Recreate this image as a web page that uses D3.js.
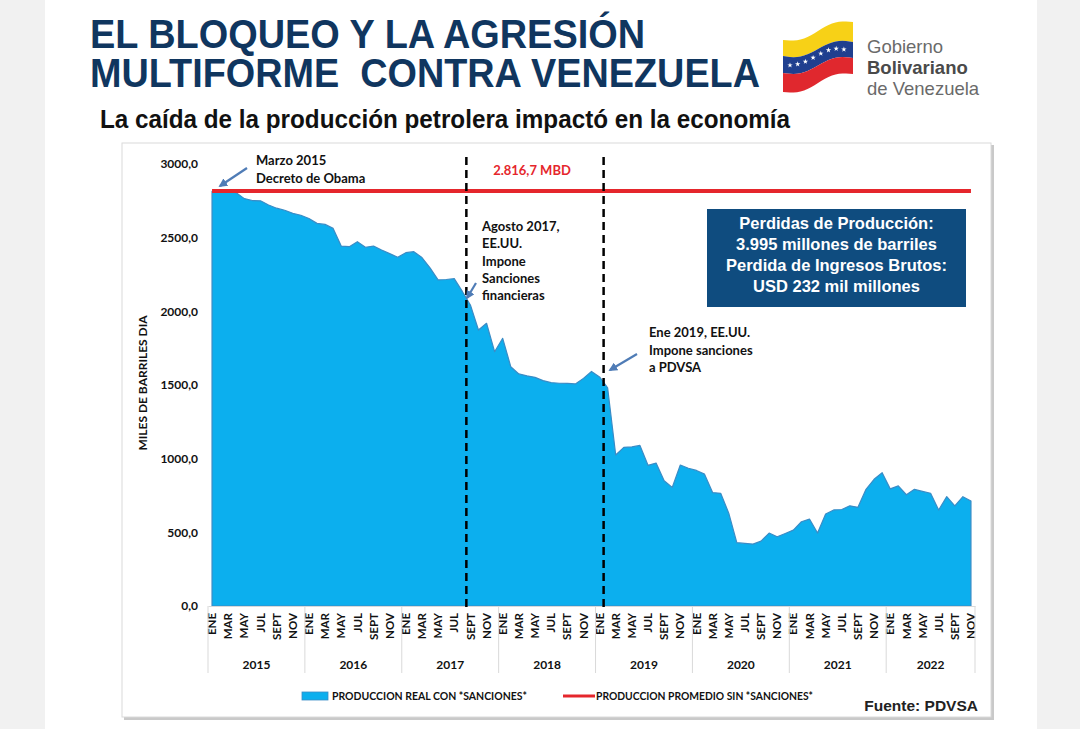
<!DOCTYPE html>
<html>
<head>
<meta charset="utf-8">
<script src="https://cdn.jsdelivr.net/npm/d3@7"></script>
<style>
  body { margin: 0; background: #f1f1f1; }
  svg { display: block; }
</style>
</head>
<body>
<div id="chart"></div>
<script>
// ---- data ----
const years = [2015, 2016, 2017, 2018, 2019, 2020, 2021, 2022];
const monthNames = ["ENE", "FEB", "MAR", "ABR", "MAY", "JUN", "JUL", "AGO", "SEPT", "OCT", "NOV", "DIC"];

// miles de barriles dia, ene 2015 - nov 2022
const produccion = [
    2815, 2817, 2815, 2805, 2765, 2752, 2750, 2722, 2700, 2686, 2665, 2652,
    2630, 2597, 2590, 2563, 2443, 2439, 2473, 2435, 2443, 2416, 2392, 2367,
    2398, 2405, 2365, 2295, 2213, 2216, 2222, 2135, 2043, 1873, 1919, 1726,
    1817, 1624, 1575, 1562, 1552, 1530, 1516, 1512, 1511, 1507, 1545, 1592,
    1555, 1480, 1025, 1077, 1080, 1090, 955, 970, 850, 805, 957, 935,
    920, 895, 770, 765, 630, 430, 425, 420, 440, 495, 470, 492,
    515, 572, 590, 495, 625, 652, 655, 680, 670, 792, 860, 905,
    795, 815, 755, 792, 778, 765, 652, 742, 680, 742, 713
];
const promedioSinSanciones = 2816.7;
const yTicks = [0, 500, 1000, 1500, 2000, 2500, 3000];

const eventCats = ["AGO 2017", "ENE 2019"];
const infoLines = ["Perdidas de Producción:", "3.995 millones de barriles", "Perdida de Ingresos Brutos:", "USD 232 mil millones"];
const legendItems = ["PRODUCCION REAL CON *SANCIONES*", "PRODUCCION PROMEDIO SIN *SANCIONES*"];

const categories = d3.cross(years, monthNames).map(([yr, m]) => m + " " + yr).slice(0, produccion.length);
const series = produccion.map((v, i) => ({cat: categories[i], value: v}));

const W = 1080, H = 729;
const areaFill = "#0cafee";
const redColor = "#e5262c";
const fontChart = "Lato, 'DejaVu Sans', sans-serif";
const fontArial = "'Liberation Sans', Arial, sans-serif";

const svg = d3.select("#chart").append("svg")
    .attr("width", W)
    .attr("height", H);

// page
svg.append("rect").attr("width", W).attr("height", H).attr("fill", "#f1f1f1");
svg.append("rect").attr("x", 45).attr("width", 992).attr("height", H).attr("fill", "#fff");

// ---- header ----
const navy = "#10365f";
svg.append("text")
    .attr("x", 90).attr("y", 48)
    .attr("textLength", 555).attr("lengthAdjust", "spacingAndGlyphs")
    .attr("font-family", fontArial).attr("font-weight", "bold").attr("font-size", 41)
    .attr("fill", navy)
    .text("EL BLOQUEO Y LA AGRESIÓN");
svg.append("text")
    .attr("x", 90).attr("y", 87)
    .attr("textLength", 670).attr("lengthAdjust", "spacingAndGlyphs")
    .attr("font-family", fontArial).attr("font-weight", "bold").attr("font-size", 41)
    .attr("fill", navy)
    .text("MULTIFORME\u00A0 CONTRA VENEZUELA");

svg.append("text")
    .attr("x", 100).attr("y", 128)
    .attr("textLength", 690).attr("lengthAdjust", "spacingAndGlyphs")
    .attr("font-family", fontArial).attr("font-weight", "bold").attr("font-size", 25)
    .attr("fill", "#111")
    .text("La caída de la producción petrolera impactó en la economía");

// logo: waving flag
const flag = svg.append("g");
const fx0 = 783, fw = 70;
function edge(yl, yr, t) {
    return yl + (yr - yl) * t + 4 * Math.sin(Math.PI * 2 * t);
}
function band(top, bot) {
    const n = 20, pts = [];
    for (let i = 0; i <= n; i++) pts.push([fx0 + fw * i / n, edge(top[0], top[1], i / n)]);
    for (let i = n; i >= 0; i--) pts.push([fx0 + fw * i / n, edge(bot[0], bot[1], i / n)]);
    return d3.line()(pts) + "Z";
}
flag.append("path").attr("d", band([40, 22], [56, 42])).attr("fill", "#f7d117");
flag.append("path").attr("d", band([56, 42], [73, 58])).attr("fill", "#1f3f8f");
flag.append("path").attr("d", band([73, 58], [92, 74])).attr("fill", "#e0282e");
d3.range(8).forEach(i => {
    const t = 0.1 + i * 0.11;
    const sx = fx0 + fw * t;
    const sy = edge(64, 50, t) + 4 * Math.pow((t - 0.48) * 2, 2) - 2;
    flag.append("path")
        .attr("d", d3.symbol(d3.symbolStar, 9)())
        .attr("transform", `translate(${sx},${sy})`)
        .attr("fill", "#fff");
});
const logoText = [["Gobierno", "normal", 53], ["Bolivariano", "bold", 74], ["de Venezuela", "normal", 95]];
logoText.forEach(([t, w, yy]) => {
    svg.append("text")
        .attr("x", 867).attr("y", yy)
        .attr("font-family", fontArial).attr("font-weight", w).attr("font-size", 18.5)
        .attr("fill", w === "bold" ? "#4a4a4a" : "#6a6a6a")
        .text(t);
});

// ---- chart frame ----
svg.append("rect").attr("x", 124).attr("y", 145).attr("width", 870).attr("height", 575).attr("fill", "#c9c9c9");
svg.append("rect").attr("x", 122).attr("y", 143).attr("width", 869).attr("height", 574)
    .attr("fill", "#fff").attr("stroke", "#dadada");

// ---- scales ----
const x = d3.scaleBand().domain(categories).range([208, 975]).padding(0);
const y = d3.scaleLinear().domain([0, 3000]).range([606, 164]);
const cx = d => x(d) + x.bandwidth() / 2;

// area
const area = d3.area()
    .x(d => cx(d.cat))
    .y0(y(0))
    .y1(d => y(d.value));
svg.append("path")
    .datum(series)
    .attr("d", area)
    .attr("fill", areaFill)
    .attr("stroke", "#3a8cc6")
    .attr("stroke-width", 1.2)
    .attr("stroke-linejoin", "round");

// x axis
const xAxis = d3.axisBottom(x)
    .tickValues(categories.filter((d, i) => i % 2 === 0))
    .tickSize(0)
    .tickFormat(d => d.split(" ")[0]);
const gx = svg.append("g")
    .attr("transform", `translate(0,${y(0)})`)
    .call(xAxis);
gx.select(".domain").attr("stroke", "#d9d9d9");
gx.selectAll("text")
    .attr("transform", "rotate(-90)")
    .attr("text-anchor", "end")
    .attr("x", -7).attr("y", 0).attr("dy", "0.36em")
    .attr("font-family", fontChart).attr("font-weight", "bold").attr("font-size", 11.5)
    .attr("fill", "#111");

// year groups
years.forEach(yr => {
    const cats = categories.filter(c => c.endsWith(" " + yr));
    const x0 = x(cats[0]);
    const x1 = x(cats[cats.length - 1]) + x.bandwidth();
    svg.append("line")
        .attr("x1", x0).attr("x2", x0).attr("y1", y(0)).attr("y2", 673)
        .attr("stroke", "#d9d9d9");
    if (yr === years[years.length - 1]) {
        svg.append("line")
            .attr("x1", x1).attr("x2", x1).attr("y1", y(0)).attr("y2", 673)
            .attr("stroke", "#d9d9d9");
    }
    svg.append("text")
        .attr("x", (x0 + x1) / 2).attr("y", 669)
        .attr("text-anchor", "middle")
        .attr("font-family", fontChart).attr("font-weight", "bold").attr("font-size", 12)
        .attr("fill", "#111")
        .text(yr);
});

// y axis
const yAxis = d3.axisLeft(y)
    .tickValues(yTicks)
    .tickSize(0)
    .tickPadding(10)
    .tickFormat(d => d3.format(".1f")(d).replace(".", ","));
const gy = svg.append("g")
    .attr("transform", "translate(208,0)")
    .call(yAxis);
gy.select(".domain").remove();
gy.selectAll("text")
    .attr("font-family", fontChart).attr("font-weight", "bold").attr("font-size", 12)
    .attr("fill", "#111");

svg.append("text")
    .attr("transform", "translate(147,383) rotate(-90)")
    .attr("text-anchor", "middle")
    .attr("font-family", fontChart).attr("font-weight", "bold").attr("font-size", 12)
    .attr("fill", "#111")
    .text("MILES DE BARRILES DIA");

// red average line
const avgLine = d3.line()
    .x(d => cx(d.cat))
    .y(() => y(promedioSinSanciones));
svg.append("path")
    .datum(series)
    .attr("d", avgLine)
    .attr("fill", "none")
    .attr("stroke", redColor)
    .attr("stroke-width", 4);

svg.append("text")
    .attr("x", 532).attr("y", 175)
    .attr("text-anchor", "middle")
    .attr("font-family", fontChart).attr("font-weight", "bold").attr("font-size", 13)
    .attr("fill", redColor)
    .text("2.816,7 MBD");

// sanction lines
eventCats.forEach(c => {
    const xe = x(c) + x.bandwidth();
    svg.append("line")
        .attr("x1", xe).attr("x2", xe)
        .attr("y1", 157).attr("y2", 611)
        .attr("stroke", "#000")
        .attr("stroke-width", 2.5)
        .attr("stroke-dasharray", "8,5");
});

// arrows + annotations
svg.append("defs").append("marker")
    .attr("id", "arrow")
    .attr("viewBox", "0 0 10 10")
    .attr("refX", 8).attr("refY", 5)
    .attr("markerWidth", 4).attr("markerHeight", 4)
    .attr("orient", "auto")
    .append("path")
    .attr("d", "M0,0L10,5L0,10Z")
    .attr("fill", "#4f7cb6");

const arrows = [
    [247, 168, 220, 186],
    [476, 283, 467, 298],
    [637, 354, 610, 370]
];
arrows.forEach(a => {
    svg.append("line")
        .attr("x1", a[0]).attr("y1", a[1]).attr("x2", a[2]).attr("y2", a[3])
        .attr("stroke", "#4f7cb6").attr("stroke-width", 2.2)
        .attr("marker-end", "url(#arrow)");
});

const notes = [
    {x: 256, y: 165, lines: ["Marzo 2015", "Decreto de Obama"], lh: 18},
    {x: 482, y: 231, lines: ["Agosto 2017,", "EE.UU.", "Impone", "Sanciones", "financieras"], lh: 17.3},
    {x: 649, y: 337, lines: ["Ene 2019, EE.UU.", "Impone sanciones", "a PDVSA"], lh: 17.5}
];
notes.forEach(n => {
    const t = svg.append("text")
        .attr("font-family", fontChart).attr("font-weight", "bold").attr("font-size", 13)
        .attr("fill", "#111");
    n.lines.forEach((l, i) => {
        t.append("tspan").attr("x", n.x).attr("y", n.y + i * n.lh).text(l);
    });
});

// info box
svg.append("rect")
    .attr("x", 707).attr("y", 209).attr("width", 259).attr("height", 98)
    .attr("fill", "#0f4c7f");
infoLines.forEach((l, i) => {
    svg.append("text")
        .attr("x", 836.5).attr("y", 228.5 + i * 21)
        .attr("text-anchor", "middle")
        .attr("font-family", fontArial).attr("font-weight", "bold").attr("font-size", 16.5)
        .attr("fill", "#fff")
        .text(l);
});

// legend
svg.append("rect")
    .attr("x", 302).attr("y", 692).attr("width", 26).attr("height", 8)
    .attr("fill", areaFill).attr("stroke", "#3a8cc6").attr("stroke-width", 0.8);
svg.append("text")
    .attr("x", 332).attr("y", 700)
    .attr("textLength", 195).attr("lengthAdjust", "spacingAndGlyphs")
    .attr("font-family", fontChart).attr("font-weight", "bold").attr("font-size", 11)
    .attr("fill", "#111")
    .text(legendItems[0]);
svg.append("line")
    .attr("x1", 563).attr("x2", 595).attr("y1", 696).attr("y2", 696)
    .attr("stroke", redColor).attr("stroke-width", 3);
svg.append("text")
    .attr("x", 596).attr("y", 700)
    .attr("textLength", 217).attr("lengthAdjust", "spacingAndGlyphs")
    .attr("font-family", fontChart).attr("font-weight", "bold").attr("font-size", 11)
    .attr("fill", "#111")
    .text(legendItems[1]);

svg.append("text")
    .attr("x", 978).attr("y", 711)
    .attr("text-anchor", "end")
    .attr("font-family", fontArial).attr("font-weight", "bold").attr("font-size", 15.5)
    .attr("fill", "#222")
    .text("Fuente: PDVSA");
</script>
</body>
</html>
